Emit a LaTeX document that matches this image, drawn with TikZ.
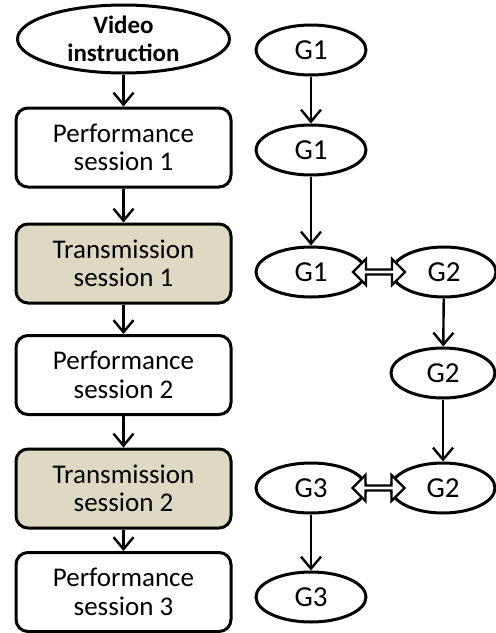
\documentclass[tikz,border=0pt]{standalone}
\usepackage{fontspec}
\setmainfont{Carlito}
\usepackage{tikz}
\usetikzlibrary{arrows.meta,positioning,shapes.geometric,shapes.arrows}
\definecolor{TanFill}{HTML}{DDD9C3}
\tikzset{
  intro/.style    = {draw, ellipse, line width=3pt, fill=white,
                     minimum width=212pt, minimum height=68pt, inner sep=0pt},
  introlbl/.style = {align=center, font=\fontsize{25}{28}\selectfont\bfseries,
                     inner sep=0pt},
  perf/.style     = {draw, rounded corners=12pt, line width=3pt, align=center,
                     font=\fontsize{27}{28.5}\selectfont, fill=white,
                     minimum width=215pt, minimum height=79pt, inner sep=2pt},
  trans/.style    = {perf, fill=TanFill},
  group/.style    = {draw, ellipse, line width=3pt, fill=white,
                     font=\fontsize{29}{29}\selectfont,
                     minimum width=110pt, minimum height=50pt, inner sep=0pt},
  flecha/.style   = {-{Straight Barb[length=12pt,width=20pt,line width=2.4pt]},
                     line width=2.4pt},
  swap/.style     = {draw, double arrow, line width=2.4pt, fill=white,
                     minimum height=52pt, minimum width=26pt,
                     double arrow head extend=5pt, inner sep=0pt},
}
\begin{document}
\begin{tikzpicture}[x=1pt,y=1pt]
  \useasboundingbox (0,0) rectangle (496,-633);
  % sessions
  \node[intro, label={[introlbl]center:{Video\\instruction}}] (vid) at (123.5,-39) {};
  \node[perf]  (perf1)  at (123.5,-147.5) {Performance\\session 1};
  \node[trans] (trans1) at (123.5,-263.5) {Transmission\\session 1};
  \node[perf]  (perf2)  at (123.5,-375)   {Performance\\session 2};
  \node[trans] (trans2) at (123.5,-488.5) {Transmission\\session 2};
  \node[perf]  (perf3)  at (123.5,-592)   {Performance\\session 3};
  \draw[flecha] (vid) -- (perf1);
  \draw[flecha] (perf1) -- (trans1);
  \draw[flecha] (trans1) -- (perf2);
  \draw[flecha] (perf2) -- (trans2);
  \draw[flecha] (trans2) -- (perf3);
  % groups
  \node[group] (g1a) at (311,-50)  {G1};
  \node[group] (g1b) at (311,-150) {G1};
  \node[group] (g1c) at (311,-272) {G1};
  \node[group, minimum width=104pt] (g2a) at (444,-272) {G2};
  \node[group, minimum width=104pt] (g2b) at (443,-373) {G2};
  \node[group, minimum width=104pt] (g2c) at (443,-488) {G2};
  \node[group] (g3a) at (311,-488) {G3};
  \node[group] (g3b) at (311,-597) {G3};
  \draw[flecha] (g1a) -- (g1b);
  \draw[flecha] (g1b) -- (g1c);
  \draw[flecha] (g2a) -- (g2b);
  \draw[flecha] (g2b) -- (g2c);
  \draw[flecha] (g3a) -- (g3b);
  \path (g1c) -- node[swap] (sw1) {} (g2a);
  \path (g3a) -- node[swap] (sw2) {} (g2c);
\end{tikzpicture}
\end{document}
